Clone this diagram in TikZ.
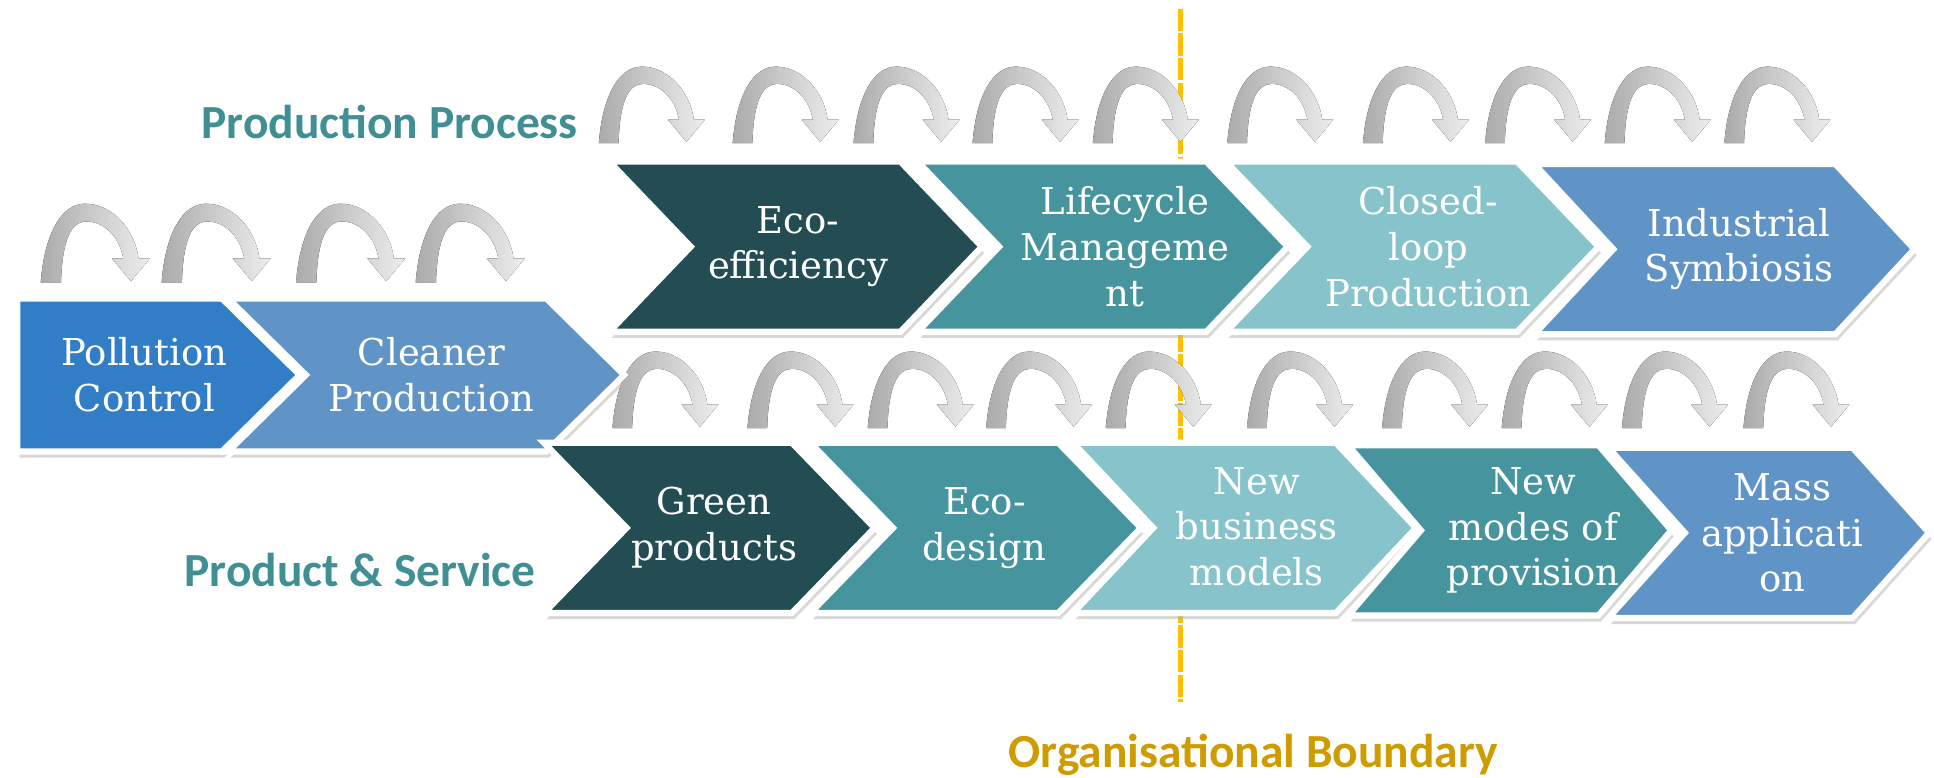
\documentclass[tikz,border=0pt]{standalone}
\usepackage{fontspec}
\newfontfamily\chevfont{DejaVu Serif}
\newfontfamily\labfont{Carlito}
\definecolor{cPol}{RGB}{49,125,198}
\definecolor{cBlue}{RGB}{96,147,198}
\definecolor{cDark}{RGB}{35,77,82}
\definecolor{cTeal}{RGB}{70,149,158}
\definecolor{cLight}{RGB}{134,195,202}
\definecolor{cLab}{RGB}{63,143,148}
\definecolor{cGold}{RGB}{207,156,0}
\definecolor{cLine}{RGB}{255,192,0}
\tikzset{
  garrow/.pic={
    \fill[left color=black!33, right color=black!7]
      (0,0) .. controls (3,-38) and (16,-62) .. (35,-62)
      .. controls (56,-62) and (74,-42) .. (77,-19) -- (86,-19) -- (71,-1)
      -- (56,-19) -- (65,-19) .. controls (62,-36) and (50,-48) .. (36,-48)
      .. controls (24,-48) and (17,-34) .. (16,0) -- cycle;
  },
  chevbox/.style={draw=white, line width=5pt, line join=miter},
  shad/.style={fill=black!30, opacity=0.5},
  chtext/.style={text=white, align=center, inner sep=0pt,
    font=\chevfont\fontsize{30}{37}\selectfont},
  lab/.style={text=cLab, inner sep=0pt, anchor=base,
    font=\labfont\bfseries\fontsize{38.5}{44}\selectfont},
}
\newcommand\chevron[7]{% color, left, topright, tip, top, bottom, notch
  \pgfmathsetmacro\midy{(#5+#6)/2}
  \pgfmathsetmacro\dep{#4-#3}
  \ifnum#7=1
    \pgfmathsetmacro\nx{#2+\dep}
  \else
    \pgfmathsetmacro\nx{#2}
  \fi
  \begin{scope}[shift={(2,5)}]
    \fill[shad] (#2,#5) -- (#3,#5) -- (#4,\midy) -- (#3,#6) -- (#2,#6) -- (\nx,\midy) -- cycle;
  \end{scope}
  \path[chevbox, fill=#1] (#2,#5) -- (#3,#5) -- (#4,\midy) -- (#3,#6) -- (#2,#6) -- (\nx,\midy) -- cycle;
}
\begin{document}
\begin{tikzpicture}[x=1pt,y=-1pt]
\useasboundingbox[fill=white] (0,0) rectangle (1568,630);

% organisational boundary line
\coordinate (ob1) at (957,7);
\coordinate (ob2) at (957,569);
\draw[cLine, line width=4pt, dash pattern=on 18pt off 2pt] (ob1) -- (ob2);

% curved arrows
\foreach \x in {33,131,240,337} \pic[scale=1.03] at (\x,229) {garrow};
\foreach \x in {485.5,594,692,788.5,886,995,1105,1204,1301,1398} \pic at (\x,116) {garrow};
\foreach \x in {496.5,606,703.5,799.5,896.5,1011,1120.5,1217.5,1315,1413.5} \pic at (\x,347) {garrow};

% left row
\chevron{cPol}{14}{180}{243}{242}{366}{0}
\chevron{cBlue}{185}{443}{506}{242}{366}{1}
% top row
\chevron{cDark}{494}{730}{796}{131}{269}{1}
\chevron{cTeal}{744}{978}{1044}{131}{269}{1}
\chevron{cLight}{994}{1230}{1296}{131}{269}{1}
\chevron{cBlue}{1244}{1488}{1552}{133}{271}{1}
% bottom row
\chevron{cDark}{441}{642}{709}{359}{497}{1}
\chevron{cTeal}{657}{858}{925}{359}{497}{1}
\chevron{cLight}{870}{1083}{1148}{359}{497}{1}
\chevron{cTeal}{1093}{1296}{1355}{361}{499}{1}
\chevron{cBlue}{1304}{1502}{1564}{363}{501}{1}

% chevron texts
\node[chtext] (pc) at (117,304) {Pollution\\Control};
\node[chtext] (cp) at (350,304) {Cleaner\\Production};
\node[chtext] (ee) at (647,200) {Eco-\\efficiency};
\node[chtext] (lm) at (912,200) {Lifecycle\\Manageme\\nt};
\node[chtext] (cl) at (1158,200) {Closed-\\loop\\Production};
\node[chtext] (is) at (1410,202) {Industrial\\Symbiosis};
\node[chtext] (gp) at (579,428) {Green\\products};
\node[chtext] (ed) at (798,428) {Eco-\\design};
\node[chtext] (nb) at (1019,427) {New\\business\\models};
\node[chtext] (nm) at (1243,430) {New\\modes of\\provision};
\node[chtext] (ma) at (1445,432) {Mass\\applicati\\on};

% labels
\node[lab] (pp) at (316,112) {Production Process};
\node[lab] (ps) at (292,475.6) {Product \& Service};
\node[lab, text=cGold] (ob) at (1016,622) {Organisational Boundary};
\end{tikzpicture}
\end{document}
